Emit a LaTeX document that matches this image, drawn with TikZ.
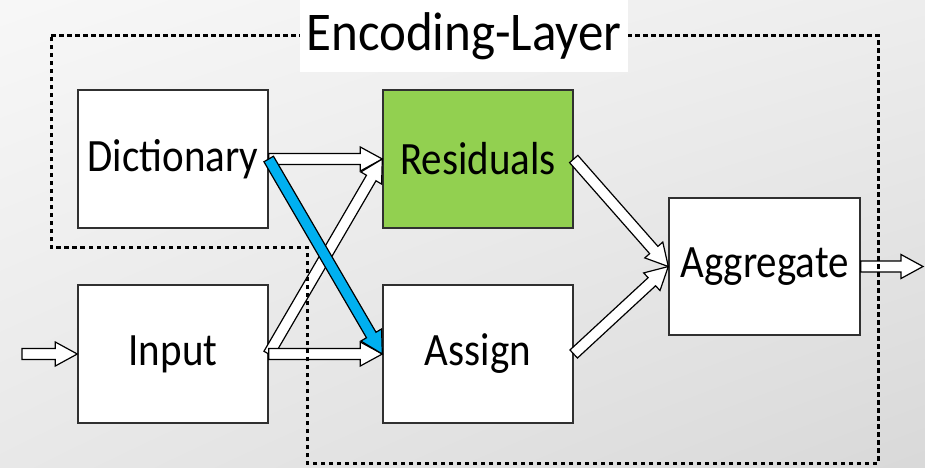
\documentclass[tikz,border=0pt]{standalone}
\usepackage{fontspec}
\usepackage{graphicx}
\setmainfont{Carlito}
\usetikzlibrary{calc,shadings}

\definecolor{resgreen}{HTML}{92D050}
\definecolor{assignblue}{HTML}{00B0F0}
\definecolor{boxline}{HTML}{303030}

% slightly condensed lettering
\newcommand\tallword[2][1.13]{\scalebox{1}[#1]{#2}}

% hollow block arrow from #2 to #3, filled with #1
\newcommand\blockarrow[3][white]{%
  \draw[arrowline, fill=#1]
    let \p1=(#2), \p2=(#3),
        \n1={atan2(\y2-\y1,\x2-\x1)},
        \n2={veclen(\x2-\x1,\y2-\y1)-22}
    in ($(\p1)+(\n1+90:5.5)$)
    -- ($(\p1)+(\n1:\n2)+(\n1+90:5.5)$)
    -- ($(\p1)+(\n1:\n2)+(\n1+90:12)$)
    -- (\p2)
    -- ($(\p1)+(\n1:\n2)+(\n1-90:12)$)
    -- ($(\p1)+(\n1:\n2)+(\n1-90:5.5)$)
    -- ($(\p1)+(\n1-90:5.5)$)
    -- cycle;}

\begin{document}
\begin{tikzpicture}[x=1pt, y=1pt,
  block/.style={draw=boxline, line width=1.4pt, fill=white, minimum width=190,
    minimum height=138, inner sep=0pt, font=\fontsize{41}{50}\selectfont},
  arrowline/.style={draw=black, line width=1.2pt, line join=miter},
  layerline/.style={draw=black, line width=3pt, dash pattern=on 4.5pt off 3.5pt}]

  % background
  \useasboundingbox (0,0) rectangle (925,-467);
  \shade[upper left=white!97!black, upper right=white!93!black,
         lower left=white!91!black, lower right=white!85!black]
    (0,0) rectangle (925,-467);

  % blocks
  \node[block] (dict) at (173,-159) {\tallword{Dictionary}};
  \node[block] (input) at (173,-354) {\tallword{Input}};
  \node[block, fill=resgreen] (res) at (478,-159) {\tallword{Residuals}};
  \node[block] (assign) at (478,-354) {\tallword{Assign}};
  \node[block, minimum width=191, minimum height=137] (agg) at (764.5,-266.5) {\tallword{Aggregate}};

  \coordinate (src) at (22,-354);
  \coordinate (out) at (923,-266.5);

  % connectors
  \blockarrow{src}{input.west}
  \blockarrow{dict.east}{res.west}
  \blockarrow{input.east}{res.west}
  \blockarrow{input.east}{assign.west}
  \blockarrow[assignblue]{dict.east}{assign.west}
  \blockarrow{res.east}{agg.west}
  \blockarrow{assign.east}{agg.west}
  \blockarrow{agg.east}{out}

  % encoding layer outline
  \draw[layerline] (51,-35) -- (878,-35) -- (878,-463) -- (307,-463)
    -- (307,-247) -- (51,-247) -- cycle;

  % title
  \node[fill=white, minimum width=328, minimum height=72, inner sep=0pt]
    (titlebg) at (464,-36) {};
  \node[anchor=base, inner sep=0pt, font=\fontsize{51}{60}\selectfont]
    (title) at (464,-50) {\tallword[1.07]{Encoding-Layer}};
\end{tikzpicture}
\end{document}
